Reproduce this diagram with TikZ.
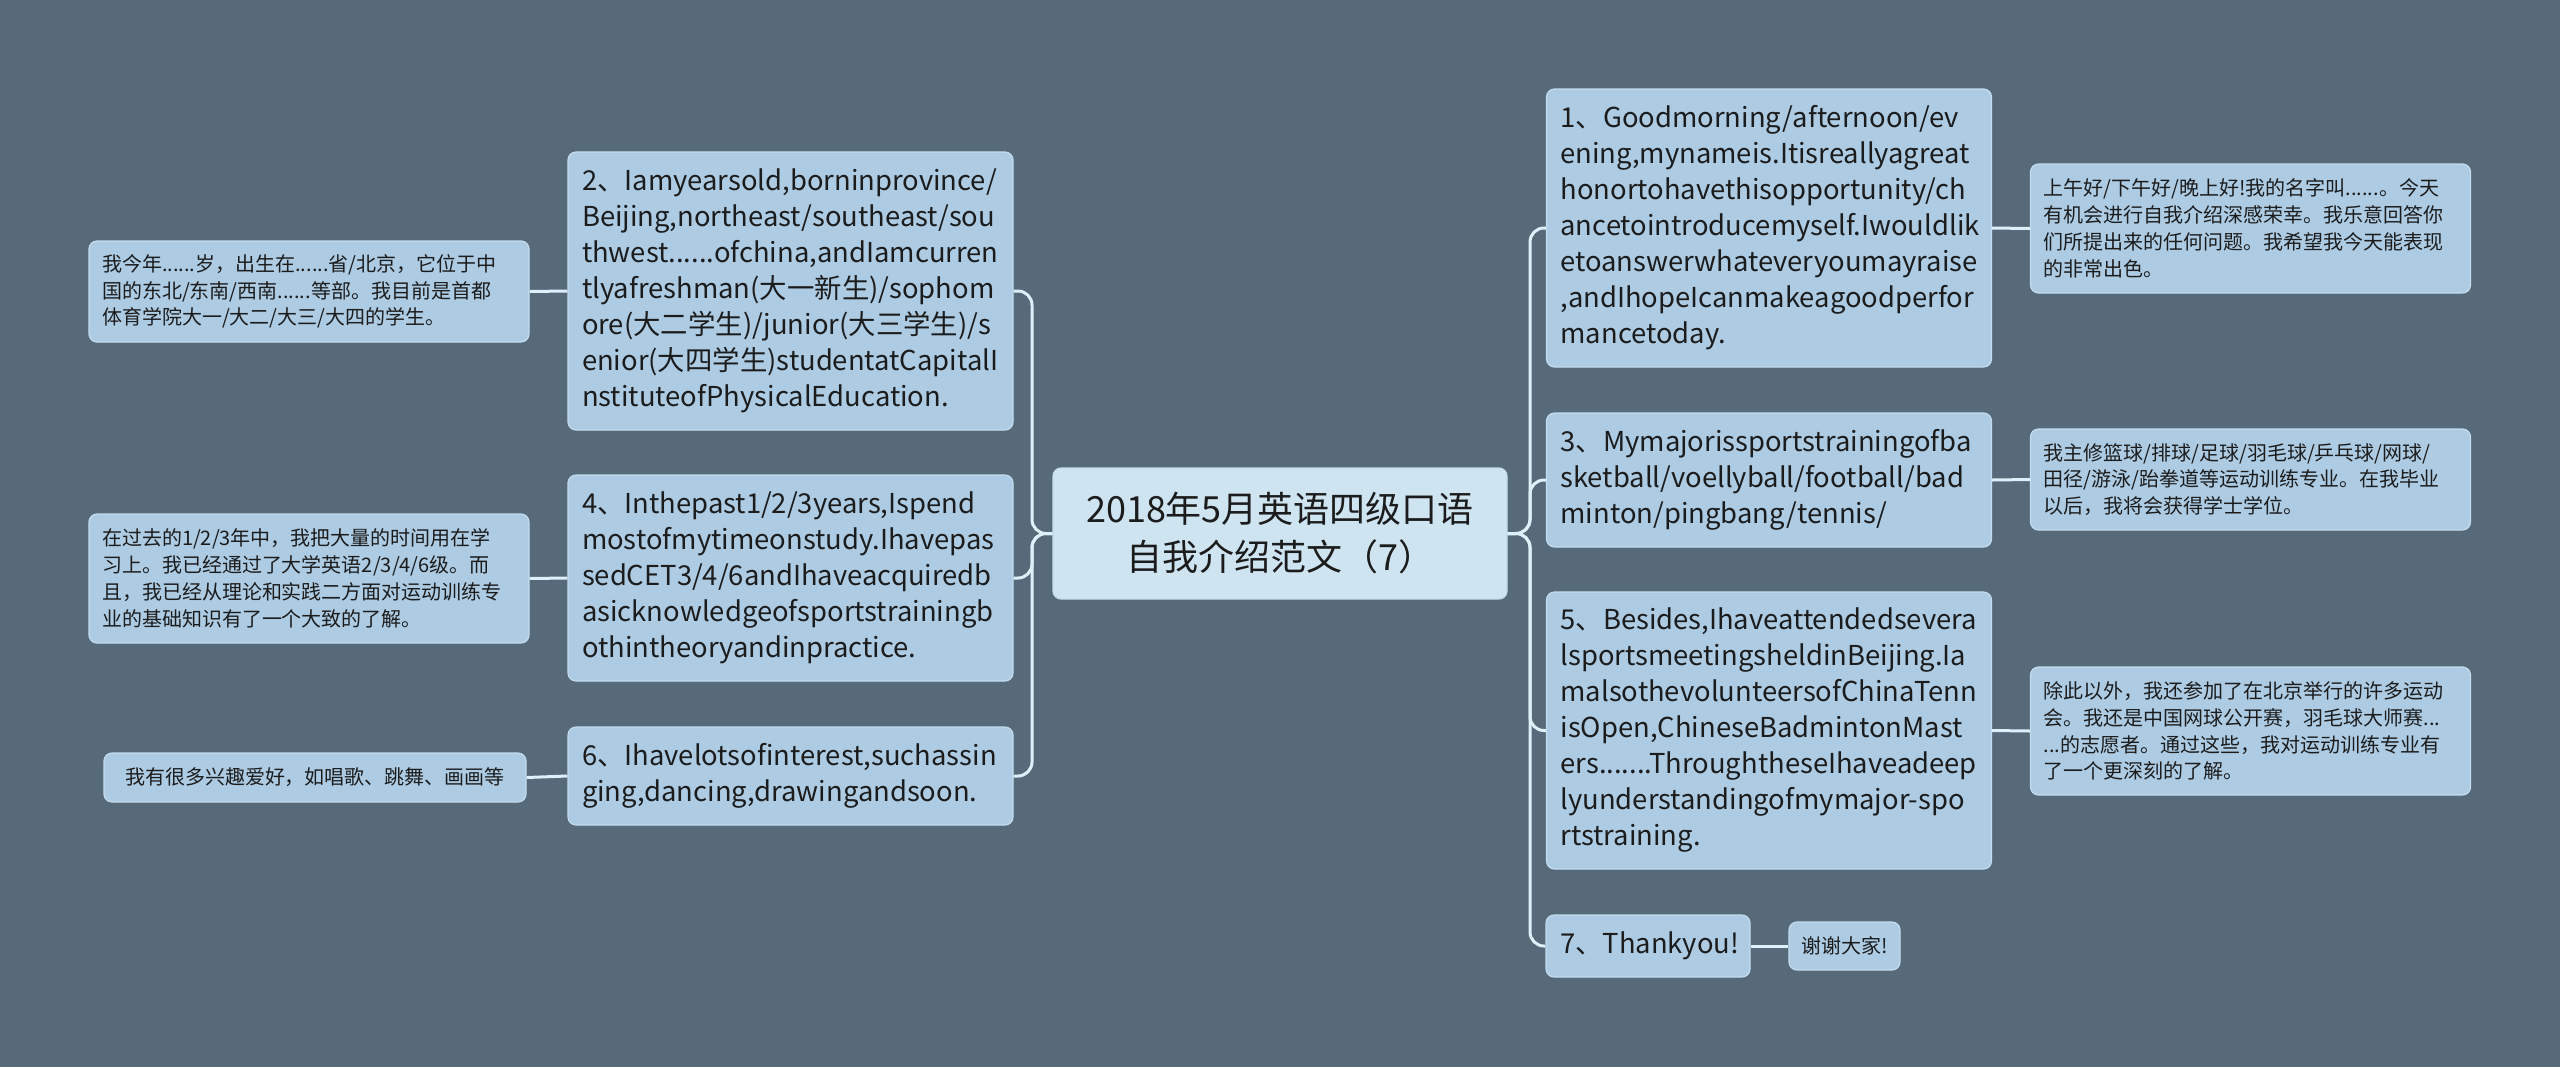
\documentclass[tikz,border=0pt]{standalone}
\usepackage{fontspec}
\newfontfamily\cjk{Noto Sans CJK SC}
\definecolor{bg}{HTML}{566A7A}
\definecolor{boxc}{HTML}{ADCBE3}
\definecolor{cenc}{HTML}{CFE4F1}
\definecolor{edgec}{HTML}{C4DCEE}
\definecolor{linec}{HTML}{DDF1FA}
\definecolor{txt}{HTML}{1C1C1C}
\begin{document}
\begin{tikzpicture}[x=0.5pt,y=-0.5pt,
  bigbox/.style={rounded corners=4pt, fill=boxc, draw=edgec, line width=0.6pt,
    inner xsep=7pt, inner ysep=0pt, align=left, text=txt,
    minimum width=222.5pt, text width=208.5pt,
    font=\cjk\fontsize{13.7}{18}\selectfont},
  smallbox/.style={rounded corners=4pt, fill=boxc, draw=edgec, line width=0.6pt,
    inner xsep=6.5pt, inner ysep=0pt, align=left, text=txt,
    minimum width=220pt, text width=207pt,
    font=\cjk\fontsize{10}{13.4}\selectfont},
  centerbox/.style={rounded corners=4pt, fill=cenc, draw=edgec, line width=0.6pt,
    inner sep=0pt, align=center, text=txt, minimum width=227pt, minimum height=65.5pt,
    font=\cjk\fontsize{18}{24}\selectfont},
  conn/.style={draw=linec, line width=1.5pt, rounded corners=7pt}
]
\fill[bg] (0,0) rectangle (2560,1067);
\useasboundingbox (0,0) rectangle (2560,1067);

% centre
\node[centerbox] (c) at (1280,533.5) {2018年5月英语四级口语\\自我介绍范文（7）};

% left main branches
\node[bigbox, minimum height=139pt] (n2) at (790.5,291) {2、Iamyearsold,borninprovince/\\Beijing,northeast/southeast/sou\\thwest......ofchina,andIamcurren\\tlyafreshman(大一新生)/sophom\\ore(大二学生)/junior(大三学生)/s\\enior(大四学生)studentatCapitalI\\nstituteofPhysicalEducation.};
\node[bigbox, minimum height=103pt] (n4) at (790.5,578) {4、Inthepast1/2/3years,Ispend\\mostofmytimeonstudy.Ihavepas\\sedCET3/4/6andIhaveacquiredb\\asicknowledgeofsportstrainingb\\othintheoryandinpractice.};
\node[bigbox, minimum height=49pt] (n6) at (790.5,776) {6、Ihavelotsofinterest,suchassin\\ging,dancing,drawingandsoon.};

% left children
\node[smallbox, minimum height=50.5pt] (s2) at (309,291.5) {我今年......岁，出生在......省/北京，它位于中\\国的东北/东南/西南......等部。我目前是首都\\体育学院大一/大二/大三/大四的学生。};
\node[smallbox, minimum height=64.5pt] (s4) at (309,578.5) {在过去的1/2/3年中，我把大量的时间用在学\\习上。我已经通过了大学英语2/3/4/6级。而\\且，我已经从理论和实践二方面对运动训练专\\业的基础知识有了一个大致的了解。};
\node[smallbox, minimum width=211pt, text width=198pt, minimum height=24.5pt, align=center] (s6) at (315,777.5) {我有很多兴趣爱好，如唱歌、跳舞、画画等};

% right main branches
\node[bigbox, minimum height=139pt] (n1) at (1769,228) {1、Goodmorning/afternoon/ev\\ening,mynameis.Itisreallyagreat\\honortohavethisopportunity/ch\\ancetointroducemyself.Iwouldlik\\etoanswerwhateveryoumayraise\\,andIhopeIcanmakeagoodperfor\\mancetoday.};
\node[bigbox, minimum height=67pt] (n3) at (1769,480) {3、Mymajorissportstrainingofba\\sketball/voellyball/football/bad\\minton/pingbang/tennis/};
\node[bigbox, minimum height=138.5pt] (n5) at (1769,730.5) {5、Besides,Ihaveattendedsevera\\lsportsmeetingsheldinBeijing.Ia\\malsothevolunteersofChinaTenn\\isOpen,ChineseBadmintonMast\\ers.......ThroughtheseIhaveadeep\\lyunderstandingofmymajor-spo\\rtstraining.};
\node[bigbox, minimum width=102pt, text width=88pt, minimum height=31pt] (n7) at (1648,946) {7、Thankyou!};

% right children
\node[smallbox, minimum height=64.5pt] (s1) at (2250.5,228.5) {上午好/下午好/晚上好!我的名字叫......。今天\\有机会进行自我介绍深感荣幸。我乐意回答你\\们所提出来的任何问题。我希望我今天能表现\\的非常出色。};
\node[smallbox, minimum height=50.5pt] (s3) at (2250.5,479.5) {我主修篮球/排球/足球/羽毛球/乒乓球/网球/\\田径/游泳/跆拳道等运动训练专业。在我毕业\\以后，我将会获得学士学位。};
\node[smallbox, minimum height=64pt] (s5) at (2250.5,731) {除此以外，我还参加了在北京举行的许多运动\\会。我还是中国网球公开赛，羽毛球大师赛...\\...的志愿者。通过这些，我对运动训练专业有\\了一个更深刻的了解。};
\node[smallbox, minimum width=55.5pt, text width=45pt, minimum height=24pt, inner xsep=5.25pt, align=center] (s7) at (1844.5,946) {谢谢大家!};

% trunk coordinates
\coordinate (tl) at (1032,533.5);
\coordinate (tr) at (1530,533.5);

% connectors left
\draw[conn] (c.west) -- (tl) |- (n2.east);
\draw[conn] (c.west) -- (tl) |- (n4.east);
\draw[conn] (c.west) -- (tl) |- (n6.east);
% connectors right
\draw[conn] (c.east) -- (tr) |- (n1.west);
\draw[conn] (c.east) -- (tr) |- (n3.west);
\draw[conn] (c.east) -- (tr) |- (n5.west);
\draw[conn] (c.east) -- (tr) |- (n7.west);
% children
\draw[conn] (n2.west) -- (s2.east);
\draw[conn] (n4.west) -- (s4.east);
\draw[conn] (n6.west) -- (s6.east);
\draw[conn] (n1.east) -- (s1.west);
\draw[conn] (n3.east) -- (s3.west);
\draw[conn] (n5.east) -- (s5.west);
\draw[conn] (n7.east) -- (s7.west);
\end{tikzpicture}
\end{document}
